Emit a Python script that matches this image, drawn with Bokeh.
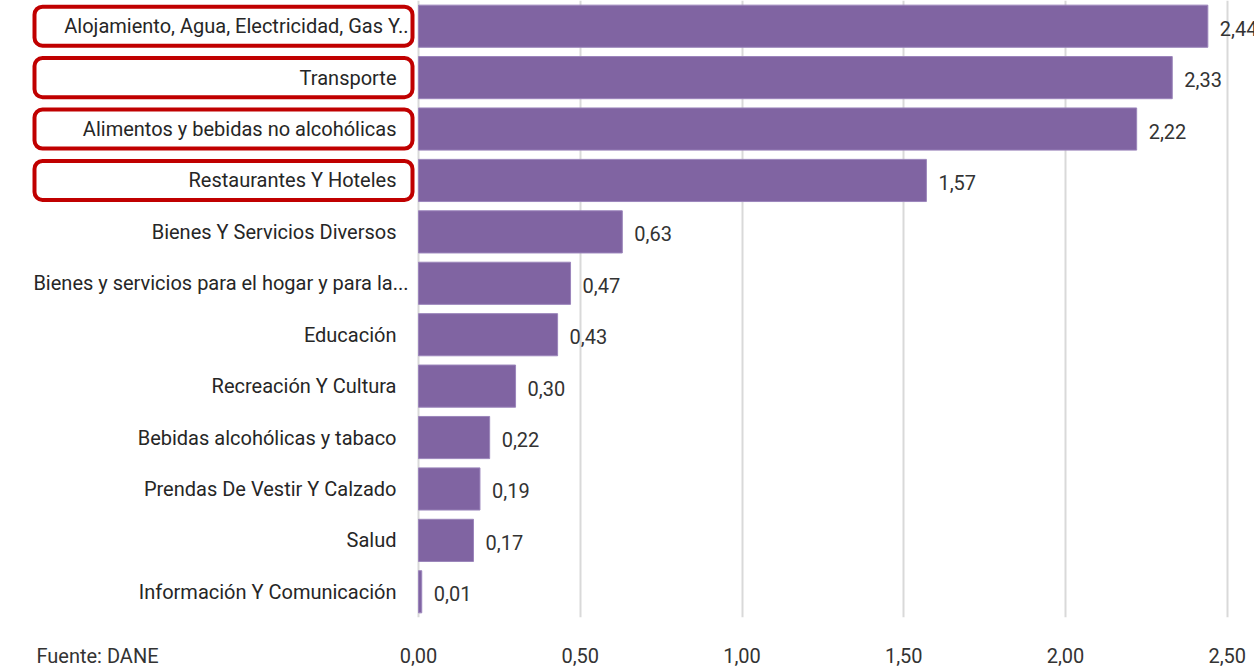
from bokeh.plotting import figure
from bokeh.models import Range1d, FactorRange, FixedTicker, CustomJSTickFormatter, ColumnDataSource
from bokeh.core.properties import value
from bokeh.embed import file_html
from bokeh.resources import INLINE

categories = [
    "Alojamiento, Agua, Electricidad, Gas Y..",
    "Transporte",
    "Alimentos y bebidas no alcohólicas",
    "Restaurantes Y Hoteles",
    "Bienes Y Servicios Diversos",
    "Bienes y servicios para el hogar y para la...",
    "Educación",
    "Recreación Y Cultura",
    "Bebidas alcohólicas y tabaco",
    "Prendas De Vestir Y Calzado",
    "Salud",
    "Información Y Comunicación",
]
values = [2.44, 2.33, 2.22, 1.57, 0.63, 0.47, 0.43, 0.30, 0.22, 0.19, 0.17, 0.01]
highlighted = categories[:4]
ticks = [0.0, 0.5, 1.0, 1.5, 2.0, 2.5]
source_note = "Fuente: DANE"

FONT = "Roboto"
W, H = 1254, 670
PX = 323.5          # pixels per unit
ZERO = 418          # canvas x of value 0
x_start = -ZERO / PX
x_end = (W - ZERO) / PX
note_x = (97 - ZERO) / PX   # where the source note sits, in the label row

fmt = lambda v: f"{v:.2f}".replace(".", ",")
offsets = [-10 if c.endswith("..") else -22 for c in categories]

src = ColumnDataSource(dict(
    cat=categories,
    val=values,
    lbl=[fmt(v) for v in values],
    off=offsets,
    zero=[0] * len(categories),
))

p = figure(width=W, height=H, output_backend="svg", toolbar_location=None,
           y_range=FactorRange(factors=list(reversed(categories))),
           x_range=Range1d(x_start, x_end),
           min_border_left=0, min_border_right=0, min_border_top=0, min_border_bottom=0)
p.outline_line_color = None
p.background_fill_color = "white"
p.border_fill_color = "white"

p.hbar(y="cat", left=0, right="val", height=0.82, source=src,
       fill_color="#8064A2", line_color="#9b85bb", line_width=1)

p.text(x="val", y="cat", text="lbl", source=src, x_offset=12, y_offset=2,
       text_align="left", text_baseline="middle",
       text_font=value(FONT), text_font_size="20px", text_color="#333333")

p.text(x="zero", y="cat", text="cat", source=src, x_offset="off",
       text_align="right", text_baseline="middle",
       text_font=value(FONT), text_font_size="20px", text_color="#262626")

box_left = (34 - ZERO) / PX
box_right = (412 - ZERO) / PX
p.hbar(y=highlighted, left=box_left, right=box_right, height=0.76,
       fill_color=None, line_color="#C00000", line_width=4, border_radius=8)

p.yaxis.visible = False
p.ygrid.grid_line_color = None
p.xgrid.ticker = FixedTicker(ticks=ticks)
p.xgrid.grid_line_color = "#d9d9d9"
p.xgrid.grid_line_width = 2
p.xaxis.ticker = FixedTicker(ticks=[note_x] + ticks)
p.xaxis.formatter = CustomJSTickFormatter(
    args=dict(note=source_note),
    code="return tick < 0 ? note : tick.toFixed(2).replace('.', ',');")
p.xaxis.axis_line_color = None
p.xaxis.major_tick_line_color = None
p.xaxis.minor_tick_line_color = None
p.xaxis.major_tick_out = 0
p.xaxis.major_label_standoff = 26
p.xaxis.major_label_text_font = FONT
p.xaxis.major_label_text_font_size = "20px"
p.xaxis.major_label_text_color = "#333333"

open("out.html", "w").write(file_html(p, INLINE))
